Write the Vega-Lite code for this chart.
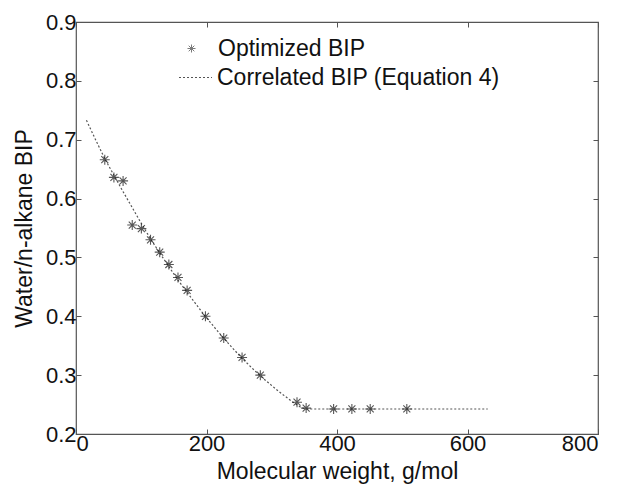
{
  "$schema": "https://vega.github.io/schema/vega-lite/v6.json",
  "autosize": {"type": "none"},
  "padding": {"left": 76, "top": 22, "right": 20, "bottom": 53},
  "width": 522,
  "height": 412,
  "background": "white",
  "config": {
    "font": "Liberation Sans",
    "view": {"stroke": "#555", "strokeWidth": 1.2},
    "axis": {"domain": false, "grid": false, "ticks": true, "tickSize": -5, "tickColor": "#555", "labelFont": "Liberation Sans", "labelFontSize": 22, "labelColor": "#111", "titleFont": "Liberation Sans", "titleFontSize": 23, "titleFontWeight": "normal", "titleColor": "#111"},
    "legend": {"labelFont": "Liberation Sans", "labelFontSize": 23, "labelColor": "#111", "labelLimit": 0, "padding": 0, "title": null}
  },
  "datasets": {
    "corr": [
      {"mw": 16, "bip": 0.733, "s": "Correlated BIP (Equation 4)"},
      {"mw": 30, "bip": 0.700, "s": "Correlated BIP (Equation 4)"},
      {"mw": 44, "bip": 0.668, "s": "Correlated BIP (Equation 4)"},
      {"mw": 58, "bip": 0.640, "s": "Correlated BIP (Equation 4)"},
      {"mw": 72, "bip": 0.612, "s": "Correlated BIP (Equation 4)"},
      {"mw": 86, "bip": 0.585, "s": "Correlated BIP (Equation 4)"},
      {"mw": 100, "bip": 0.558, "s": "Correlated BIP (Equation 4)"},
      {"mw": 114, "bip": 0.532, "s": "Correlated BIP (Equation 4)"},
      {"mw": 128, "bip": 0.508, "s": "Correlated BIP (Equation 4)"},
      {"mw": 142, "bip": 0.485, "s": "Correlated BIP (Equation 4)"},
      {"mw": 156, "bip": 0.462, "s": "Correlated BIP (Equation 4)"},
      {"mw": 170, "bip": 0.441, "s": "Correlated BIP (Equation 4)"},
      {"mw": 198, "bip": 0.400, "s": "Correlated BIP (Equation 4)"},
      {"mw": 226, "bip": 0.363, "s": "Correlated BIP (Equation 4)"},
      {"mw": 254, "bip": 0.329, "s": "Correlated BIP (Equation 4)"},
      {"mw": 282, "bip": 0.299, "s": "Correlated BIP (Equation 4)"},
      {"mw": 310, "bip": 0.273, "s": "Correlated BIP (Equation 4)"},
      {"mw": 330, "bip": 0.256, "s": "Correlated BIP (Equation 4)"},
      {"mw": 345, "bip": 0.245, "s": "Correlated BIP (Equation 4)"},
      {"mw": 352, "bip": 0.2425, "s": "Correlated BIP (Equation 4)"},
      {"mw": 631, "bip": 0.2425, "s": "Correlated BIP (Equation 4)"}
    ],
    "pts": [
      {"mw": 44.1, "bip": 0.666, "s": "Optimized BIP"},
      {"mw": 58.1, "bip": 0.636, "s": "Optimized BIP"},
      {"mw": 72.15, "bip": 0.630, "s": "Optimized BIP"},
      {"mw": 86.2, "bip": 0.555, "s": "Optimized BIP"},
      {"mw": 100.2, "bip": 0.549, "s": "Optimized BIP"},
      {"mw": 114.2, "bip": 0.530, "s": "Optimized BIP"},
      {"mw": 128.3, "bip": 0.509, "s": "Optimized BIP"},
      {"mw": 142.3, "bip": 0.488, "s": "Optimized BIP"},
      {"mw": 156.3, "bip": 0.466, "s": "Optimized BIP"},
      {"mw": 170.3, "bip": 0.444, "s": "Optimized BIP"},
      {"mw": 198.4, "bip": 0.400, "s": "Optimized BIP"},
      {"mw": 226.4, "bip": 0.363, "s": "Optimized BIP"},
      {"mw": 254.5, "bip": 0.330, "s": "Optimized BIP"},
      {"mw": 282.5, "bip": 0.300, "s": "Optimized BIP"},
      {"mw": 338.7, "bip": 0.254, "s": "Optimized BIP"},
      {"mw": 352.7, "bip": 0.244, "s": "Optimized BIP"},
      {"mw": 394.8, "bip": 0.2425, "s": "Optimized BIP"},
      {"mw": 422.8, "bip": 0.2425, "s": "Optimized BIP"},
      {"mw": 450.9, "bip": 0.2425, "s": "Optimized BIP"},
      {"mw": 507.0, "bip": 0.2425, "s": "Optimized BIP"}
    ]
  },
  "layer": [
    {
      "data": {"name": "corr"},
      "mark": {"type": "line", "color": "#555", "strokeWidth": 1.2},
      "encoding": {
        "x": {"field": "mw", "type": "quantitative", "scale": {"domain": [0, 800], "nice": false},
              "axis": {"orient": "bottom", "values": [0, 200, 400, 600, 800], "format": "d", "labelPadding": 4, "title": "Molecular weight, g/mol", "titlePadding": 6}},
        "y": {"field": "bip", "type": "quantitative", "scale": {"domain": [0.2, 0.9], "nice": false, "zero": false},
              "axis": {"orient": "left", "values": [0.2, 0.3, 0.4, 0.5, 0.6, 0.7, 0.8, 0.9], "format": ".1f", "labelPadding": 5, "title": "Water/n-alkane BIP", "titlePadding": 9}},
        "strokeDash": {"field": "s", "type": "nominal",
                       "scale": {"domain": ["Correlated BIP (Equation 4)"], "range": [[2, 2]]},
                       "legend": {"orient": "none", "legendX": 102, "legendY": 38, "symbolType": "stroke", "symbolSize": 1089, "symbolStrokeColor": "#555", "symbolStrokeWidth": 1.2, "labelOffset": 4}}
      }
    },
    {
      "data": {"name": "pts"},
      "mark": {"type": "point", "filled": false, "color": "#111", "strokeWidth": 1.1, "size": 100},
      "encoding": {
        "x": {"field": "mw", "type": "quantitative", "scale": {"domain": [0, 800], "nice": false},
              "axis": {"orient": "top", "values": [0, 200, 400, 600, 800], "labels": false, "title": null}},
        "y": {"field": "bip", "type": "quantitative", "scale": {"domain": [0.2, 0.9], "nice": false, "zero": false},
              "axis": {"orient": "right", "values": [0.2, 0.3, 0.4, 0.5, 0.6, 0.7, 0.8, 0.9], "labels": false, "title": null}},
        "shape": {"field": "s", "type": "nominal",
                  "scale": {"domain": ["Optimized BIP"], "range": ["M-1,0L1,0M0,-1L0,1M-0.7,-0.7L0.7,0.7M-0.7,0.7L0.7,-0.7"]},
                  "legend": {"orient": "none", "legendX": 104, "legendY": 15, "symbolSize": 64, "symbolStrokeColor": "#444", "symbolFillColor": "transparent", "symbolStrokeWidth": 1, "labelOffset": 15}}
      }
    }
  ]
}
